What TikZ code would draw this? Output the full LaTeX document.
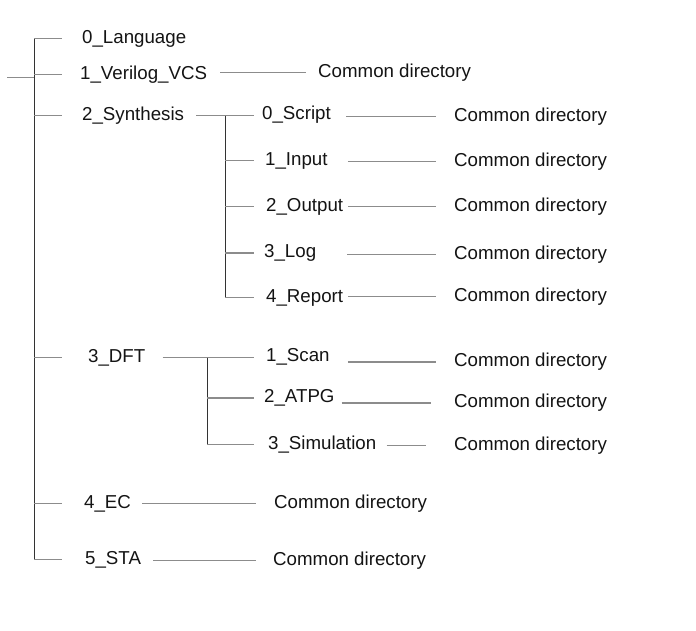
\documentclass[tikz,border=0pt]{standalone}
\usepackage{fontspec}
\setmainfont{Liberation Sans}
\begin{document}
\begin{tikzpicture}[x=1pt,y=-1pt,
  lbl/.style={anchor=west,inner sep=0pt,text=black!92,font=\fontsize{18.7}{22}\selectfont,text height=13.4pt,text depth=3.8pt},
  ln/.style={draw=gray!90,line width=1.3pt},
  trunk/.style={draw=black!80,line width=0.9pt}]
\useasboundingbox[fill=white] (0,0) rectangle (696,630);
% level 1
\node[lbl] (lang) at (82,38.5) {0\_Language};
\node[lbl] (vcs)  at (80,74.5) {1\_Verilog\_VCS};
\node[lbl] (syn)  at (82,115.5) {2\_Synthesis};
\node[lbl] (dft)  at (88,357.5) {3\_DFT};
\node[lbl] (ec)   at (84,503.5) {4\_EC};
\node[lbl] (sta)  at (85,559.5) {5\_STA};
% level 2 synthesis
\node[lbl] (s0) at (262,114.5) {0\_Script};
\node[lbl] (s1) at (265,160.5) {1\_Input};
\node[lbl] (s2) at (266,206.5) {2\_Output};
\node[lbl] (s3) at (264,253) {3\_Log};
\node[lbl] (s4) at (266,297.5) {4\_Report};
% level 2 DFT
\node[lbl] (d1) at (266,356.5) {1\_Scan};
\node[lbl] (d2) at (264,398) {2\_ATPG};
\node[lbl] (d3) at (268,444.5) {3\_Simulation};
% common directories
\node[lbl] (cdv) at (318,72.5) {Common directory};
\node[lbl] (cs0) at (454,116.5) {Common directory};
\node[lbl] (cs1) at (454,161.5) {Common directory};
\node[lbl] (cs2) at (454,206.5) {Common directory};
\node[lbl] (cs3) at (454,254.5) {Common directory};
\node[lbl] (cs4) at (454,296.5) {Common directory};
\node[lbl] (cd1) at (454,362) {Common directory};
\node[lbl] (cd2) at (454,403) {Common directory};
\node[lbl] (cd3) at (454,445.5) {Common directory};
\node[lbl] (cde) at (274,503.5) {Common directory};
\node[lbl] (cdt) at (273,560.5) {Common directory};
% tree columns
\coordinate (T) at (34,0);
\coordinate (B) at (62,0);
\coordinate (root) at (7,77.5);
\coordinate (ST) at (225,0);
\coordinate (SB) at (254,0);
\coordinate (DT) at (207,0);
\coordinate (DB) at (254,0);
% main trunk
\draw[trunk] (T |- lang.west) -- (T |- sta.west);
\draw[ln] (root) -- (T |- root);
\foreach \n in {lang,vcs,syn,dft,ec,sta}
  \draw[ln] (T |- \n.west) -- (B |- \n.west);
% synthesis subtree
\draw[ln] ([xshift=12pt]syn.east) -- (SB |- syn.east);
\draw[trunk] (ST |- syn.east) -- (ST |- s4.west);
\foreach \n in {s1,s2,s3,s4}
  \draw[ln] (ST |- \n.west) -- (SB |- \n.west);
% DFT subtree
\draw[ln] ([xshift=17pt]dft.east) -- (DB |- dft.east);
\draw[trunk] (DT |- dft.east) -- (DT |- d3.west);
\foreach \n in {d2,d3}
  \draw[ln] (DT |- \n.west) -- (DB |- \n.west);
% leaf connectors
\foreach \a/\b/\ga/\gb in {vcs/cdv/13/12, s0/cs0/15/18, s1/cs1/20/18, s2/cs2/5/18,
    s3/cs3/31/18, s4/cs4/5/18, d1/cd1/18/18, d2/cd2/7/23, d3/cd3/10/28,
    ec/cde/11/18, sta/cdt/12/17}
  \draw[ln] ([xshift=\ga pt]\a.east |- \b.west) -- ([xshift=-\gb pt]\b.west);
\end{tikzpicture}
\end{document}
